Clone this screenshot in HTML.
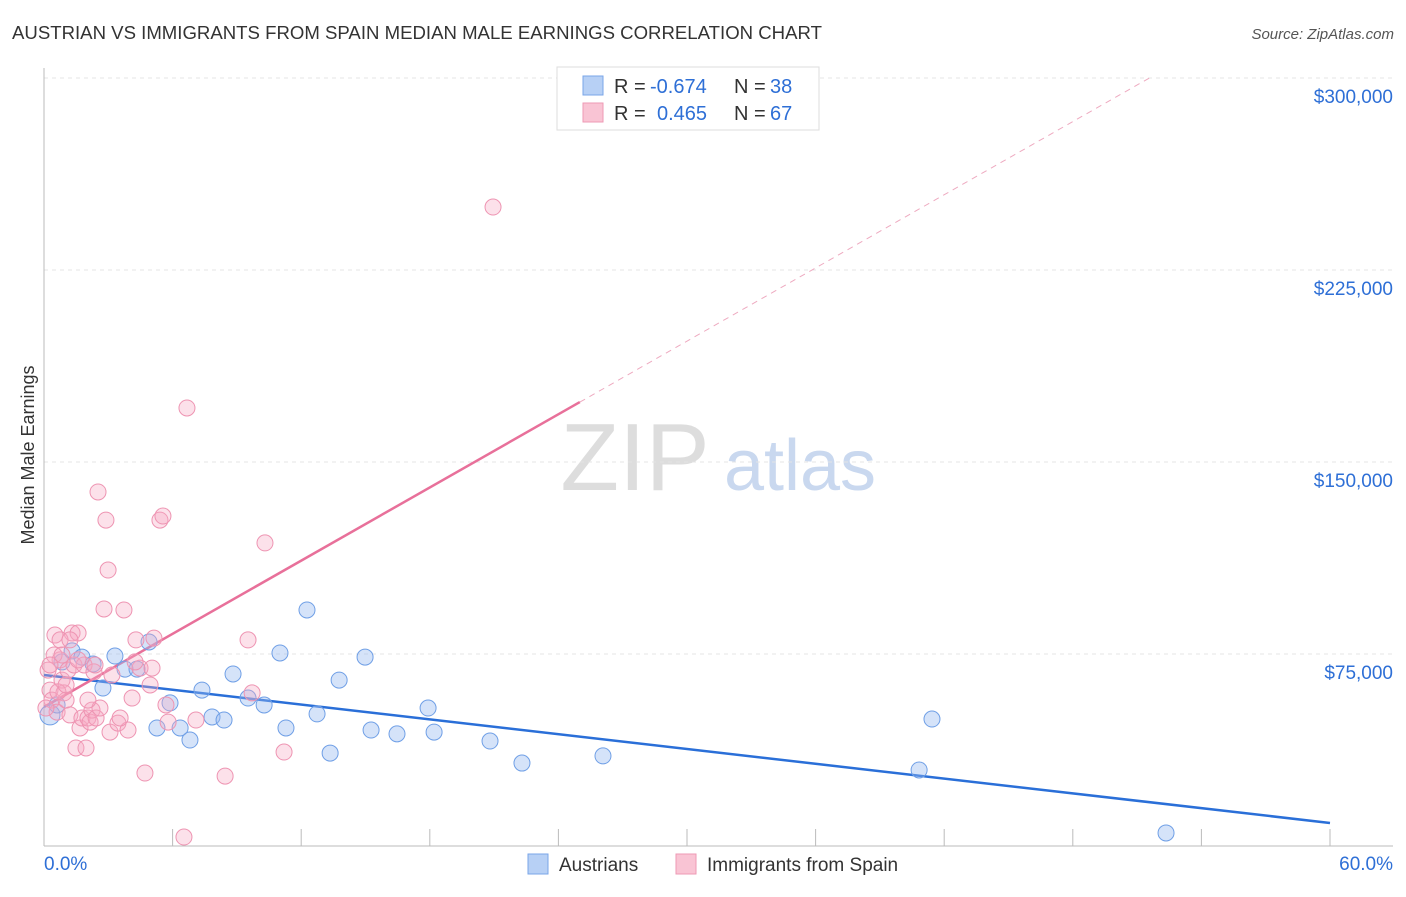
<!DOCTYPE html>
<html><head><meta charset="utf-8">
<style>
body{margin:0;background:#fff;font-family:"Liberation Sans",sans-serif;}
svg text{font-family:"Liberation Sans",sans-serif;}
</style></head>
<body>
<svg id="chart" width="1406" height="892" xmlns="http://www.w3.org/2000/svg">
<text x="12" y="39" font-size="18.6" fill="#333">AUSTRIAN VS IMMIGRANTS FROM SPAIN MEDIAN MALE EARNINGS CORRELATION CHART</text>
<text x="1394" y="39" font-size="15" fill="#555" text-anchor="end" font-style="italic">Source: ZipAtlas.com</text>
<text x="34" y="455" font-size="18" fill="#333" text-anchor="middle" transform="rotate(-90 34 455)">Median Male Earnings</text>
<g>
<text x="635" y="490" font-size="96" fill="#ddd" text-anchor="middle" font-family="Liberation Serif">ZIP</text>
<text x="800" y="490" font-size="72" fill="#c9d8ef" text-anchor="middle">atlas</text>
</g>
<g id="grid"></g><g id="axes"></g><g id="lines"></g><g id="pts"></g>
<g>
<rect x="557" y="67" width="262" height="63" fill="#fff" stroke="#ddd"/>
<rect x="583" y="76" width="20" height="19" fill="#b7d0f5" stroke="#7aa6e8"/>
<rect x="583" y="103" width="20" height="19" fill="#f9c4d4" stroke="#ee9ab4"/>
<text x="614" y="93" font-size="20" fill="#333">R =</text>
<text x="650" y="93" font-size="20" fill="#2e6fd6">-0.674</text>
<text x="734" y="93" font-size="20" fill="#333">N =</text>
<text x="770" y="93" font-size="20" fill="#2e6fd6">38</text>
<text x="614" y="120" font-size="20" fill="#333">R =</text>
<text x="657" y="120" font-size="20" fill="#2e6fd6">0.465</text>
<text x="734" y="120" font-size="20" fill="#333">N =</text>
<text x="770" y="120" font-size="20" fill="#2e6fd6">67</text>
</g>
<g>
<rect x="528" y="854" width="20" height="20" fill="#b7d0f5" stroke="#7aa6e8"/>
<text x="559" y="871" font-size="19" fill="#333">Austrians</text>
<rect x="676" y="854" width="20" height="20" fill="#f9c4d4" stroke="#ee9ab4"/>
<text x="707" y="871" font-size="19" fill="#333">Immigrants from Spain</text>
</g>
</svg>
<script>
const blueX=[0.28,0.61,0.84,1.31,1.77,2.29,2.75,3.31,3.78,4.34,4.9,5.27,5.88,6.35,6.81,7.37,7.84,8.4,8.82,9.52,10.27,11.01,11.29,12.27,12.74,13.35,13.77,14.98,15.26,16.47,17.92,18.2,20.81,22.3,26.08,40.83,41.43,52.35];
const blueY=[51.2,55.1,71.9,76.2,73.8,71.1,61.7,74.2,69.1,69.1,79.7,46.1,55.9,46.1,41.4,60.9,50.4,49.2,67.2,57.8,55.1,75.4,46.1,92.2,51.6,36.3,64.8,73.8,45.3,43.8,53.9,44.5,41.0,32.4,35.2,29.7,49.6,5.1];
const pinkX=[0.19,0.28,0.37,0.51,0.61,0.75,0.84,0.93,1.03,1.12,1.21,1.31,1.4,1.49,1.59,1.68,1.77,1.87,1.96,2.05,2.15,2.24,2.33,2.43,2.52,2.8,2.89,2.99,3.08,3.17,3.45,3.73,3.92,4.11,4.29,4.48,4.71,4.95,5.04,5.13,5.41,5.55,5.69,5.79,6.53,6.67,7.09,8.45,9.52,9.71,10.31,11.2,20.95,0.75,0.47,0.65,1.03,2.61,3.55,4.25,1.59,1.21,2.05,0.09,0.28,0.84,2.38];
const pinkY=[68.7,60.9,57.0,82.4,52.3,72.7,64.8,59.8,57.0,68.7,51.2,83.2,70.7,38.3,83.2,46.1,50.0,70.7,38.3,50.0,48.4,53.1,68.0,50.0,138.3,92.6,127.3,107.8,44.5,66.8,48.0,92.2,45.3,57.8,80.5,69.5,28.5,62.9,69.5,81.2,127.3,128.9,55.1,48.4,3.5,171.1,49.2,27.3,80.5,59.8,118.4,36.7,249.6,80.5,74.6,60.2,62.9,53.9,50.0,71.9,72.7,80.5,57.0,53.9,70.7,74.6,70.7];
const yTicks=[75,150,225,300];
const yTickLabels=["$75,000","$150,000","$225,000","$300,000"];
const xTicks=[0,6,12,18,24,30,36,42,48,54,60];
const blueTrend=[66.8,9.0];
const pinkTrend=[54.3,173.4,25.0];
const NS="http://www.w3.org/2000/svg";
const sx=v=>44+v*(1286/60);
const sy=v=>846-v*(192/75);
function mk(tag,attrs,parent){const e=document.createElementNS(NS,tag);for(const k in attrs)e.setAttribute(k,attrs[k]);document.getElementById(parent).appendChild(e);return e;}
yTicks.forEach((t,i)=>{
 const l=mk('line',{x1:44,x2:1393,y1:sy(t),y2:sy(t),stroke:'#e4e4e4','stroke-dasharray':'4,4'},'grid');
 
 
 const tx=mk('text',{x:1393,y:sy(t)+25,'font-size':19,fill:'#2e6fd6','text-anchor':'end'},'axes');
 tx.textContent=yTickLabels[i];
 
 
});
const ax=mk('line',{x1:44,x2:1393,y1:846,y2:846,stroke:'#bbb'},'axes');


const ay=mk('line',{x1:44,x2:44,y1:68,y2:846,stroke:'#bbb'},'axes');


xTicks.forEach(t=>{
 const l=mk('line',{x1:sx(t),x2:sx(t),y1:829,y2:846,stroke:'#bbb'},'axes');
 
 
});
let t0=mk('text',{x:44,y:870,'font-size':19,fill:'#2e6fd6'},'axes');t0.textContent="0.0%";


let t1=mk('text',{x:1393,y:870,'font-size':19,fill:'#2e6fd6','text-anchor':'end'},'axes');t1.textContent="60.0%";


blueX.forEach((x,i)=>{
 const c=mk('circle',{cx:sx(x),cy:sy(blueY[i]),r:i==0?10:8,fill:'rgba(150,186,240,0.4)',stroke:'#6f9fe6','stroke-width':1},'pts');
 
 
});
pinkX.forEach((x,i)=>{
 const c=mk('circle',{cx:sx(x),cy:sy(pinkY[i]),r:8,fill:'rgba(247,170,195,0.35)',stroke:'#ee94b2','stroke-width':1},'pts');
 
 
});
const bl=mk('line',{x1:sx(0),y1:sy(blueTrend[0]),x2:sx(60),y2:sy(blueTrend[1]),stroke:'#2a6fd8','stroke-width':2.5},'lines');


const slope=(pinkTrend[1]-pinkTrend[0])/pinkTrend[2];
const xEnd=(300-pinkTrend[0])/slope;
const pl=mk('line',{x1:sx(0),y1:sy(pinkTrend[0]),x2:sx(pinkTrend[2]),y2:sy(pinkTrend[1]),stroke:'#e8709a','stroke-width':2.5},'lines');


const pd=mk('line',{x1:sx(pinkTrend[2]),y1:sy(pinkTrend[1]),x2:sx(xEnd),y2:sy(300),stroke:'#eeaac0','stroke-width':1,'stroke-dasharray':'6,5'},'lines');


</script>
</body></html>
